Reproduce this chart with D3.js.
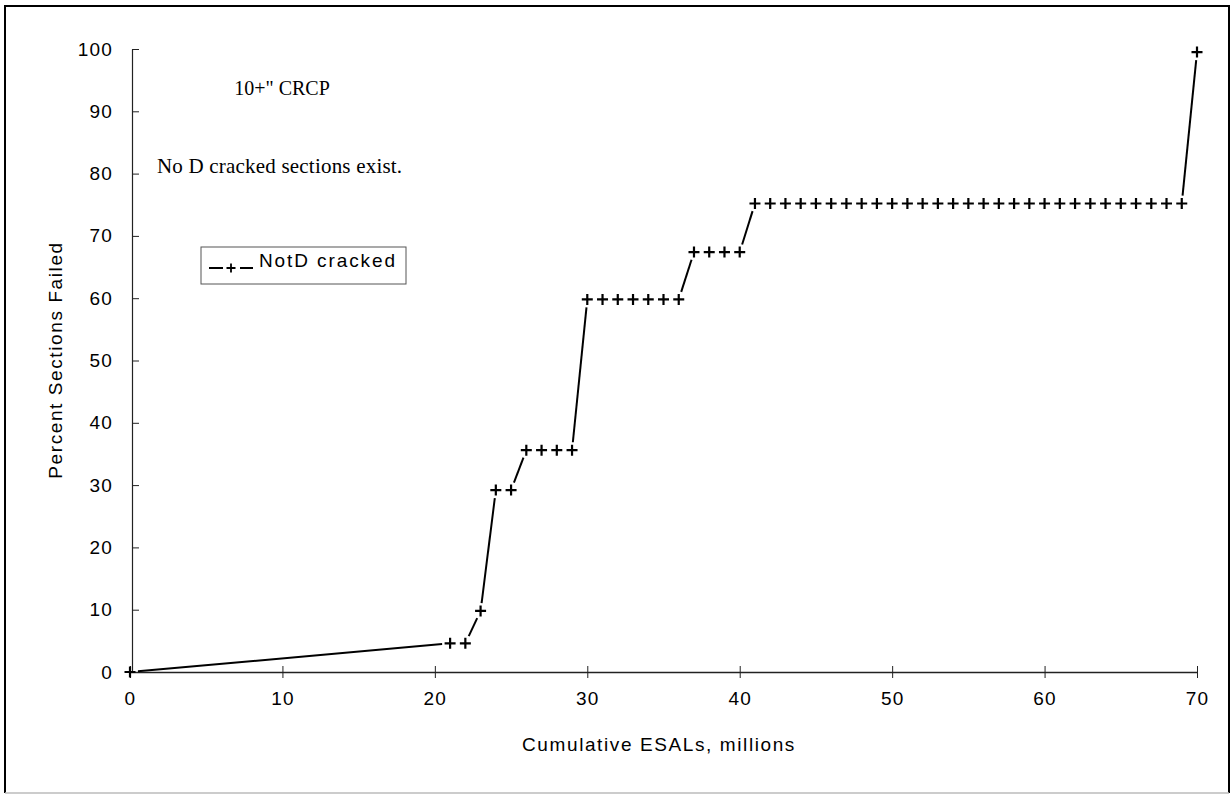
<!DOCTYPE html>
<html>
<head>
<meta charset="utf-8">
<script src="https://cdnjs.cloudflare.com/ajax/libs/d3/7.8.5/d3.min.js"></script>
<style>
  body { margin: 0; background: #fff; }
  svg { display: block; }
  .tick text { font-family: "Liberation Sans", Arial, sans-serif; }
</style>
</head>
<body>
<div id="chart"></div>
<script>
// cumulative ESALs (millions) for each section
var esals = [0, 21, 22, 23, 24, 25, 26, 27, 28, 29,
    30, 31, 32, 33, 34, 35, 36, 37, 38, 39, 40,
    41, 42, 43, 44, 45, 46, 47, 48, 49, 50, 51, 52, 53, 54, 55,
    56, 57, 58, 59, 60, 61, 62, 63, 64, 65, 66, 67, 68, 69, 70];

// percent sections failed
var percentFailed = [0, 4.6, 4.6, 9.8, 29.2, 29.2, 35.6, 35.6, 35.6, 35.6,
    59.8, 59.8, 59.8, 59.8, 59.8, 59.8, 59.8, 67.4, 67.4, 67.4, 67.4,
    75.2, 75.2, 75.2, 75.2, 75.2, 75.2, 75.2, 75.2, 75.2, 75.2, 75.2, 75.2, 75.2, 75.2, 75.2,
    75.2, 75.2, 75.2, 75.2, 75.2, 75.2, 75.2, 75.2, 75.2, 75.2, 75.2, 75.2, 75.2, 75.2, 99.5];

var xTicks = [0, 10, 20, 30, 40, 50, 60, 70];
var yTicks = [0, 10, 20, 30, 40, 50, 60, 70, 80, 90, 100];

var seriesName = "NotD cracked";
var titleText = "10+\" CRCP";
var noteText = "No D cracked sections exist.";

var width = 1231;
var height = 795;

var svg = d3.select("#chart").append("svg")
    .attr("width", width)
    .attr("height", height);

// page border (bottom edge is faint in the scan)
svg.append("path")
    .attr("d", "M5,793 L5,6 L1229,6 L1229,793")
    .attr("fill", "none")
    .attr("stroke", "#000")
    .attr("stroke-width", 2);
svg.append("line")
    .attr("x1", 5).attr("x2", 1229)
    .attr("y1", 793).attr("y2", 793)
    .attr("stroke", "#bbb")
    .attr("stroke-width", 1.5);

var x = d3.scaleLinear()
    .domain([0, 70])
    .range([130, 1197]);

var y = d3.scaleLinear()
    .domain([0, 100])
    .range([672, 49]);

// x axis, ticks cross the line
var xAxis = svg.append("g")
    .attr("transform", "translate(0," + y(0) + ")")
    .call(d3.axisBottom(x).tickValues(xTicks).tickSizeInner(6).tickSizeOuter(0).tickPadding(14));
xAxis.select(".domain").attr("stroke", "#222").attr("stroke-width", 1.3);
xAxis.selectAll(".tick line").attr("y1", -6).attr("stroke", "#222");
xAxis.selectAll(".tick text")
    .attr("font-size", 19)
    .attr("letter-spacing", 1.2)
    .attr("fill", "#000");

var yAxis = svg.append("g")
    .attr("transform", "translate(" + (x(0) + 2) + ",0)")
    .call(d3.axisLeft(y).tickValues(yTicks).tickSizeInner(6).tickSizeOuter(0).tickPadding(13));
yAxis.select(".domain").attr("stroke", "#222").attr("stroke-width", 1.2);
yAxis.selectAll(".tick line").attr("x2", 7).attr("stroke", "#222");
yAxis.selectAll(".tick text")
    .attr("font-size", 19)
    .attr("letter-spacing", 1.2)
    .attr("fill", "#000");

// axis titles
svg.append("text")
    .attr("x", 659)
    .attr("y", 751)
    .attr("text-anchor", "middle")
    .attr("font-family", "Liberation Sans, Arial, sans-serif")
    .attr("font-size", 19)
    .attr("letter-spacing", 1.6)
    .text("Cumulative ESALs, millions");

svg.append("text")
    .attr("transform", "translate(62," + 360 + ") rotate(-90)")
    .attr("text-anchor", "middle")
    .attr("font-family", "Liberation Sans, Arial, sans-serif")
    .attr("font-size", 19)
    .attr("letter-spacing", 1.6)
    .text("Percent Sections Failed");

// annotations
svg.append("text")
    .attr("x", 282)
    .attr("y", 95)
    .attr("text-anchor", "middle")
    .attr("font-family", "Liberation Serif, Times New Roman, serif")
    .attr("font-size", 20)
    .text(titleText);

svg.append("text")
    .attr("x", 157)
    .attr("y", 173)
    .attr("font-family", "Liberation Serif, Times New Roman, serif")
    .attr("font-size", 21)
    .attr("letter-spacing", 0.2)
    .text(noteText);

var data = esals.map(function (d, i) {
    return {x: d, y: percentFailed[i]};
});

// connecting line, cut short around each marker like the original print
var gap = 8;
var segs = [];
for (var i = 0; i < data.length - 1; i++) {
    var x1 = x(data[i].x), y1 = y(data[i].y);
    var x2 = x(data[i + 1].x), y2 = y(data[i + 1].y);
    var len = Math.sqrt((x2 - x1) * (x2 - x1) + (y2 - y1) * (y2 - y1));
    if (len <= gap * 2) continue;
    var ux = (x2 - x1) / len, uy = (y2 - y1) / len;
    segs.push([x1 + ux * gap, y1 + uy * gap, x2 - ux * gap, y2 - uy * gap]);
}

svg.append("g")
    .selectAll("line")
    .data(segs)
    .enter()
    .append("line")
    .attr("x1", function (d) { return d[0]; })
    .attr("y1", function (d) { return d[1]; })
    .attr("x2", function (d) { return d[2]; })
    .attr("y2", function (d) { return d[3]; })
    .attr("stroke", "#000")
    .attr("stroke-width", 2);

function plusPath(s) {
    return "M" + (-s) + ",0 L" + s + ",0 M0," + (-s) + " L0," + s;
}

svg.append("g")
    .selectAll("path")
    .data(data)
    .enter()
    .append("path")
    .attr("transform", function (d) { return "translate(" + x(d.x) + "," + y(d.y) + ")"; })
    .attr("d", plusPath(5.5))
    .attr("stroke", "#000")
    .attr("stroke-width", 2.2)
    .attr("fill", "none");

// legend
var legend = svg.append("g")
    .attr("transform", "translate(201,247)");

legend.append("rect")
    .attr("width", 205)
    .attr("height", 37)
    .attr("fill", "#fff")
    .attr("stroke", "#555")
    .attr("stroke-width", 1);

legend.append("line")
    .attr("x1", 8).attr("x2", 22)
    .attr("y1", 21).attr("y2", 21)
    .attr("stroke", "#000").attr("stroke-width", 2);
legend.append("line")
    .attr("x1", 39).attr("x2", 52)
    .attr("y1", 21).attr("y2", 21)
    .attr("stroke", "#000").attr("stroke-width", 2);
legend.append("path")
    .attr("transform", "translate(30,21)")
    .attr("d", plusPath(4.5))
    .attr("stroke", "#000")
    .attr("stroke-width", 1.8);

legend.append("text")
    .attr("x", 58)
    .attr("y", 20)
    .attr("font-family", "Liberation Sans, Arial, sans-serif")
    .attr("font-size", 19)
    .attr("letter-spacing", 1.9)
    .text(seriesName);
</script>
</body>
</html>
